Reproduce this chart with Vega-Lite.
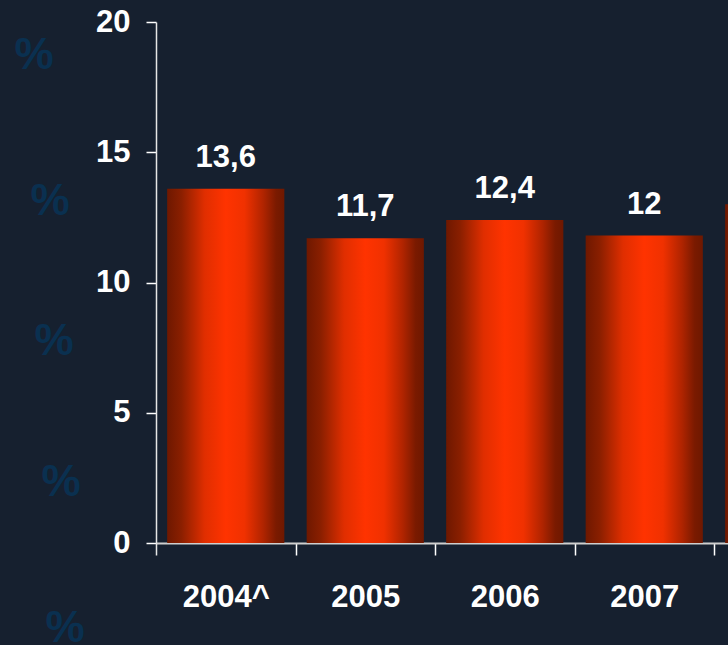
{
  "$schema": "https://vega.github.io/schema/vega-lite/v6.json",
  "width": 572,
  "height": 533,
  "autosize": {"type": "none"},
  "padding": {"left": 156, "top": 22, "right": 0, "bottom": 90},
  "background": "#16202f",
  "config": {"view": {"stroke": null}, "font": "Liberation Sans"},
  "layer": [
    {
      "data": {"values": [
        {"sym": "%", "px": -21.3, "py": 18.7},
        {"sym": "%", "px": -18.5, "py": 13.1},
        {"sym": "%", "px": -17.8, "py": 7.7},
        {"sym": "%", "px": -16.6, "py": 2.3},
        {"sym": "%", "px": -15.9, "py": -3.3}
      ]},
      "mark": {"type": "text", "font": "Liberation Sans", "fontWeight": "bold", "fontSize": 44, "color": "#0a3050", "align": "center", "baseline": "middle"},
      "encoding": {
        "text": {"field": "sym", "type": "nominal"},
        "x": {"field": "px", "type": "quantitative", "scale": {"domain": [0, 100], "nice": false, "zero": false}, "axis": null},
        "y": {"field": "py", "type": "quantitative", "scale": {"domain": [-0.46, 20], "nice": false, "zero": false},
          "axis": {"title": null, "values": [0, 5, 10, 15, 20], "labelFont": "Liberation Sans", "labelFontSize": 31, "labelFontWeight": "bold", "labelColor": "#ffffff", "labelPadding": 16, "tickSize": 10, "tickColor": "#ffffff", "tickWidth": 1.5, "domainColor": "#e6e6e6", "domainWidth": 1.5, "grid": false, "labelBaseline": "middle"}}
      }
    },
    {
      "data": {"values": [
        {"year": "2004^", "value": 13.6, "label": "13,6"},
        {"year": "2005", "value": 11.7, "label": "11,7"},
        {"year": "2006", "value": 12.4, "label": "12,4"},
        {"year": "2007", "value": 11.8, "label": "12"},
        {"year": "2008", "value": 13.0, "label": "13"}
      ]},
      "encoding": {
        "x": {"field": "year", "type": "nominal", "sort": null,
          "scale": {"range": [0, 697.5], "paddingInner": 0.16, "paddingOuter": 0.08},
          "axis": {"title": null, "labelAngle": 0, "labelFont": "Liberation Sans", "labelFontSize": 31, "labelFontWeight": "bold", "labelColor": "#ffffff", "labelBaseline": "alphabetic", "labelPadding": 51, "bandPosition": 1, "tickExtra": false, "tickOffset": 11.16, "labelOffset": -11.16, "tickSize": 12, "tickColor": "#ffffff", "tickWidth": 1.5, "domainColor": "#cfcfcf", "domainWidth": 2, "offset": -12, "labelOverlap": false}},
        "y": {"field": "value", "type": "quantitative", "scale": {"domain": [-0.46, 20], "nice": false, "zero": false},
          "axis": {"title": null, "values": [0, 5, 10, 15, 20], "labelFont": "Liberation Sans", "labelFontSize": 31, "labelFontWeight": "bold", "labelColor": "#ffffff", "labelPadding": 16, "tickSize": 10, "tickColor": "#ffffff", "tickWidth": 1.5, "domainColor": "#e6e6e6", "domainWidth": 1.5, "grid": false, "labelBaseline": "middle"}}
      },
      "layer": [
        {
          "mark": {"type": "bar", "color": {"gradient": "linear", "x1": 0, "x2": 1, "y1": 0, "y2": 0, "stops": [
            {"offset": 0, "color": "#6e1800"},
            {"offset": 0.12, "color": "#8a1f00"},
            {"offset": 0.32, "color": "#e02e00"},
            {"offset": 0.5, "color": "#ff3300"},
            {"offset": 0.66, "color": "#f03100"},
            {"offset": 0.82, "color": "#b02400"},
            {"offset": 0.93, "color": "#7a1a00"},
            {"offset": 1, "color": "#6e1800"}
          ]}}
        },
        {
          "mark": {"type": "text", "font": "Liberation Sans", "fontWeight": "bold", "fontSize": 31, "color": "#ffffff", "align": "center", "baseline": "alphabetic", "dy": -22},
          "encoding": {"text": {"field": "label", "type": "nominal"}}
        }
      ]
    }
  ],
  "resolve": {"scale": {"x": "independent"}}
}
